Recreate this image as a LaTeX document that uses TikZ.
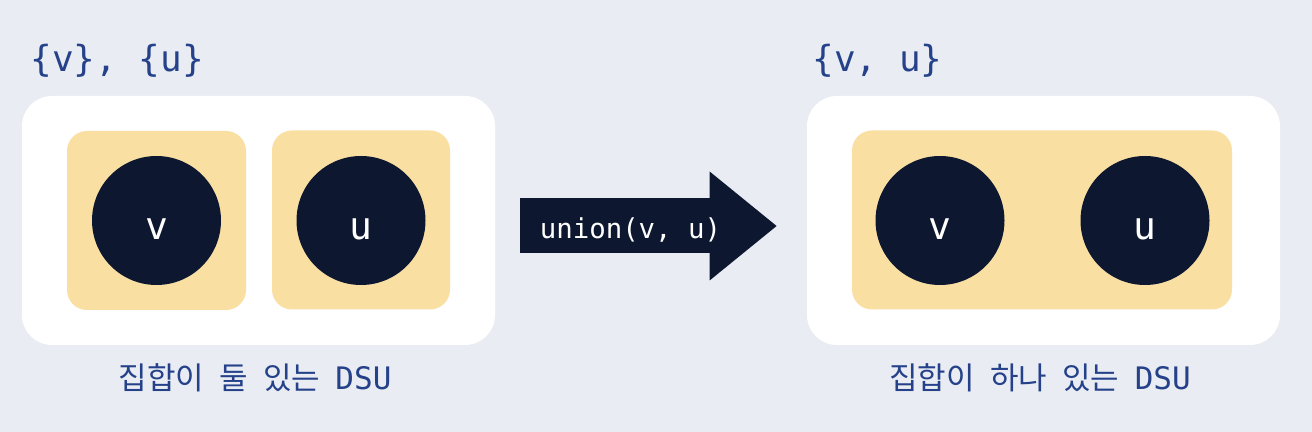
\documentclass[tikz,border=0pt]{standalone}
\usepackage{fontspec}
\setmonofont{DejaVu Sans Mono}
\newfontfamily\kr{Noto Sans CJK KR}[WordSpace=2.2]
\usetikzlibrary{positioning,arrows.meta}
\definecolor{bgcol}{HTML}{E9ECF2}
\definecolor{setcol}{HTML}{FADFA3}
\definecolor{navy}{HTML}{0D1830}
\definecolor{inkblue}{HTML}{24418A}
\begin{document}
\begin{tikzpicture}[x=0.5pt, y=-0.5pt,
	dsubox/.style={fill=white, rounded corners=15pt, minimum width=236.5pt, minimum height=124.5pt, inner sep=0pt},
	setbox/.style={fill=setcol, rounded corners=10pt, minimum height=89.5pt, inner sep=0pt},
	elem/.style={circle, fill=navy, minimum size=64.5pt, inner sep=0pt, text=white, font=\ttfamily\fontsize{19}{19}\selectfont, text height=19pt, text depth=0pt},
	setlabel/.style={anchor=west, inner sep=0pt, text=inkblue, font=\ttfamily\fontsize{18}{22}\selectfont},
	caption/.style={inner sep=0pt, text=inkblue, font=\kr\fontsize{15.5}{18}\selectfont},
	opflow/.style={navy, line width=27.5pt, shorten <=12.5pt, shorten >=15pt, -{Triangle[length=33.5pt, width=54.5pt, line width=0pt]}}]
		\fill[bgcol] (0,0) rectangle (1312,432);

		\node[dsubox] (before) at (258.5,220.5) {};
		\node[setbox, minimum width=89.5pt] (setv) at (156.5,220.5) {};
		\node[setbox, minimum width=89pt] (setu) at (361,220) {};
		\node[elem] (v) at (156.5,220.5) {v};
		\node[elem] (u) at (361,220.5) {u};
		\node[setlabel] (twosets) at (30,61) {\{v\}, \{u\}};
		\node[caption] (twocap) at (255,378) {집합이 둘 있는 \ttfamily DSU};

		\node[dsubox] (after) at (1043.5,220.5) {};
		\node[setbox, minimum width=190pt] (setvu) at (1042,220) {};
		\node[elem] (v2) at (940,220.5) {v};
		\node[elem] (u2) at (1145,220.5) {u};
		\node[setlabel] (oneset) at (812,61) {\{v, u\}};
		\node[caption] (onecap) at (1040,378) {집합이 하나 있는 \ttfamily DSU};

		\draw[opflow] ([yshift=-2.75pt]before.east) -- ([yshift=-2.75pt]after.west);
		\node[inner sep=0pt, text=white, font=\ttfamily\fontsize{13.7}{16}\selectfont] (op) at (630.5,230) {union(v, u)};

	\end{tikzpicture}
\end{document}
